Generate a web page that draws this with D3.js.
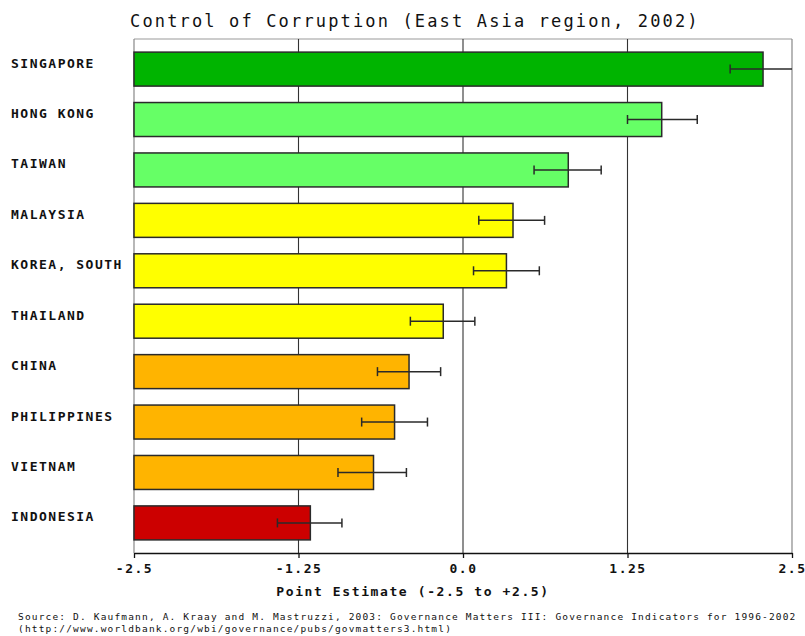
<!DOCTYPE html>
<html>
<head>
<meta charset="utf-8">
<script src="https://cdn.jsdelivr.net/npm/d3@7"></script>
<style>
  html, body { margin: 0; padding: 0; background: #fff; }
  svg { display: block; }
  text { font-family: "DejaVu Sans Mono", "Liberation Mono", monospace; fill: #111; }
</style>
</head>
<body>
<svg id="chart" width="805" height="636"></svg>
<script>
// Control of Corruption, East Asia, 2002 — point estimates with error margins
const countries = ["SINGAPORE", "HONG KONG", "TAIWAN", "MALAYSIA", "KOREA, SOUTH",
                   "THAILAND", "CHINA", "PHILIPPINES", "VIETNAM", "INDONESIA"];
const estimates = [2.28, 1.51, 0.80, 0.38, 0.33, -0.15, -0.41, -0.52, -0.68, -1.16];
const lowerBound = [2.03, 1.25, 0.54, 0.12, 0.08, -0.40, -0.65, -0.77, -0.95, -1.41];
const upperBound = [2.53, 1.78, 1.05, 0.62, 0.58, 0.09, -0.17, -0.27, -0.43, -0.92];
const rankGroup = ["top", "upper", "upper", "middle", "middle",
                   "middle", "lower", "lower", "lower", "bottom"];
const groupColors = { top: "#00b400", upper: "#66ff66", middle: "#ffff00", lower: "#ffb400", bottom: "#cc0000" };
const tickValues = [-2.5, -1.25, 0, 1.25, 2.5];
const tickLabels = ["-2.5", "-1.25", "0.0", "1.25", "2.5"];

const svg = d3.select("#chart");
const plot = { left: 134, right: 792, top: 39, bottom: 553 };

const x = d3.scaleLinear().domain([-2.5, 2.5]).range([plot.left, plot.right]).clamp(true);
const y = d3.scaleBand().domain(countries).range([plot.top, plot.bottom])
  .paddingInner(0.326).paddingOuter(0.26);

// frame: top, right and left edges
svg.append("line").attr("x1", plot.left).attr("x2", plot.right)
  .attr("y1", plot.top).attr("y2", plot.top).attr("stroke", "#999").attr("stroke-width", 1);
svg.append("line").attr("x1", plot.right).attr("x2", plot.right)
  .attr("y1", plot.top).attr("y2", plot.bottom).attr("stroke", "#888").attr("stroke-width", 1.2);
svg.append("line").attr("x1", plot.left).attr("x2", plot.left)
  .attr("y1", plot.top).attr("y2", plot.bottom).attr("stroke", "#888").attr("stroke-width", 1.2);

// interior gridlines
svg.append("g").selectAll("line")
  .data(tickValues.slice(1, -1))
  .join("line")
  .attr("x1", d => x(d)).attr("x2", d => x(d))
  .attr("y1", plot.top).attr("y2", plot.bottom)
  .attr("stroke", "#333").attr("stroke-width", 1.1);

// bars
const rows = countries.map((c, i) => ({
  name: c, value: estimates[i], lo: lowerBound[i], hi: upperBound[i], color: groupColors[rankGroup[i]]
}));

svg.append("g").selectAll("rect")
  .data(rows)
  .join("rect")
  .attr("x", x(-2.5))
  .attr("y", d => y(d.name))
  .attr("width", d => x(d.value) - x(-2.5))
  .attr("height", y.bandwidth())
  .attr("fill", d => d.color)
  .attr("stroke", "#2a2a2a")
  .attr("stroke-width", 1.5);

// error bars
const eb = svg.append("g").attr("stroke", "#2a2a2a").attr("stroke-width", 1.5);
rows.forEach(d => {
  const cy = y(d.name) + y.bandwidth() / 2;
  eb.append("line").attr("x1", x(d.lo)).attr("x2", x(d.hi)).attr("y1", cy).attr("y2", cy);
  eb.append("line").attr("x1", x(d.lo)).attr("x2", x(d.lo)).attr("y1", cy - 4.5).attr("y2", cy + 4.5);
  if (d.hi <= 2.5) {
    eb.append("line").attr("x1", x(d.hi)).attr("x2", x(d.hi)).attr("y1", cy - 4.5).attr("y2", cy + 4.5);
  }
});

// country labels
svg.append("g").selectAll("text")
  .data(rows)
  .join("text")
  .attr("x", 11)
  .attr("y", d => y(d.name) + y.bandwidth() / 2 - 1.5)
  .attr("font-size", 13)
  .attr("font-weight", "bold")
  .attr("letter-spacing", 1.5)
  .text(d => d.name);

// bottom axis
const xAxis = d3.axisBottom(x).tickValues(tickValues)
  .tickFormat((d, i) => tickLabels[i]).tickSize(5).tickSizeOuter(0);
const ax = svg.append("g").attr("transform", `translate(0,${plot.bottom})`).call(xAxis);
ax.select(".domain").attr("stroke", "#111").attr("stroke-width", 1.3);
ax.selectAll(".tick line").attr("stroke", "#111").attr("stroke-width", 1.3);
ax.selectAll(".tick text")
  .attr("y", 11)
  .attr("dy", "0.71em")
  .attr("font-family", "DejaVu Sans Mono, monospace")
  .attr("font-size", 13)
  .attr("font-weight", "bold")
  .attr("letter-spacing", 1.5)
  .attr("fill", "#111");

// axis title
svg.append("text")
  .attr("x", 413).attr("y", 596)
  .attr("text-anchor", "middle")
  .attr("font-size", 13)
  .attr("font-weight", "bold")
  .attr("letter-spacing", 1.6)
  .text("Point Estimate (-2.5 to +2.5)");

// chart title
svg.append("text")
  .attr("x", 130).attr("y", 27)
  .attr("font-size", 17)
  .attr("letter-spacing", 2.15)
  .text("Control of Corruption (East Asia region, 2002)");

// source note
svg.append("text")
  .attr("x", 18).attr("y", 620)
  .attr("font-size", 9.5)
  .attr("letter-spacing", 1.17)
  .text("Source: D. Kaufmann, A. Kraay and M. Mastruzzi, 2003: Governance Matters III: Governance Indicators for 1996-2002");
svg.append("text")
  .attr("x", 18).attr("y", 632)
  .attr("font-size", 9.5)
  .attr("letter-spacing", 1.17)
  .text("(http://www.worldbank.org/wbi/governance/pubs/govmatters3.html)");
</script>
</body>
</html>
